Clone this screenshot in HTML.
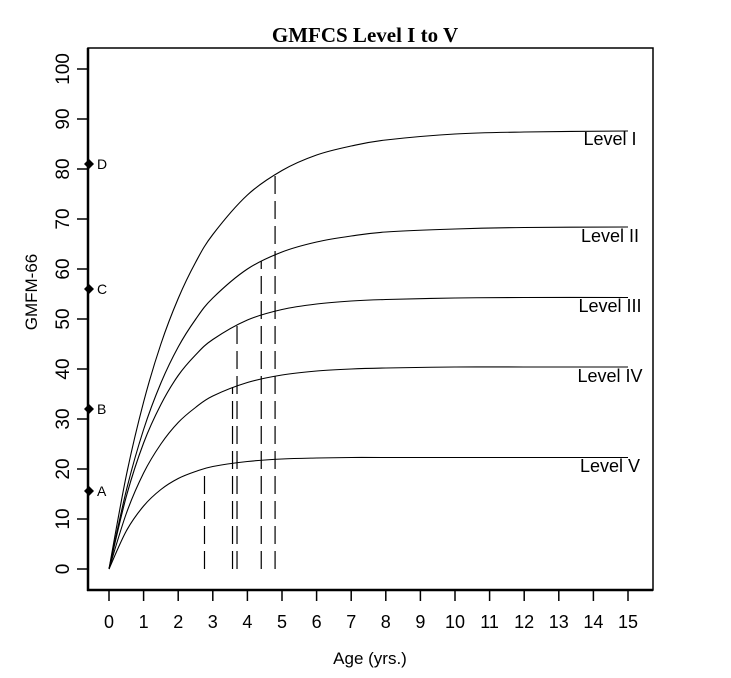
<!DOCTYPE html>
<html><head><meta charset="utf-8"><style>
html,body{margin:0;padding:0;background:#fff;}
svg{display:block;font-family:"Liberation Sans",Arial,sans-serif;}
</style></head><body>
<svg id="chart" width="731" height="678" viewBox="0 0 731 678">
<text x="365" y="42" text-anchor="middle" font-family="Liberation Serif,serif" font-weight="bold" font-size="21">GMFCS Level I to V</text>
<rect x="88" y="48" width="565" height="542" fill="none" stroke="#000" stroke-width="1.5"/>
<g id="g"></g>
<text x="370" y="664" text-anchor="middle" font-size="17">Age (yrs.)</text>
<text transform="translate(37,292) rotate(-90)" text-anchor="middle" font-size="17">GMFM-66</text>
</svg>
<script>
const ages = [0,0.5,1,1.5,2,2.5,3,4,5,6,7,8,10,12,15];
const levelI   = [0,18.7,33.4,45.0,54.1,61.3,66.9,74.8,79.7,82.8,84.6,85.8,87.0,87.4,87.6];
const levelII  = [0,15.7,27.9,37.2,44.4,49.9,54.2,60.0,63.4,65.4,66.6,67.4,68.0,68.3,68.4];
const levelIII = [0,14.5,25.2,32.9,38.7,42.8,45.9,49.8,51.9,53.0,53.6,53.9,54.2,54.3,54.3];
const levelIV  = [0,11.1,19.2,25.0,29.3,32.3,34.6,37.3,38.8,39.6,40.0,40.2,40.4,40.4,40.4];
const levelV   = [0,7.6,12.6,15.9,18.1,19.5,20.5,21.5,22.0,22.2,22.3,22.3,22.3,22.3,22.3];
const seriesNames = ["Level I","Level II","Level III","Level IV","Level V"];
const dashAges = [4.8,4.4,3.7,3.57,2.76];
const dashTops = [78.9,61.6,48.9,36.4,20.1];
const pointLabels = ["A","B","C","D"];
const pointValues = [15.6,32,56,81];
const xTicks = [0,1,2,3,4,5,6,7,8,9,10,11,12,13,14,15];
const yTicks = [0,10,20,30,40,50,60,70,80,90,100];

const NS="http://www.w3.org/2000/svg";
const g=document.getElementById('g');
const X=t=>109+t*34.6;
const Y=v=>569-v*5.0;
function mk(tag,attrs){const e=document.createElementNS(NS,tag);for(const k in attrs)e.setAttribute(k,attrs[k]);g.appendChild(e);return e;}

mk('line',{x1:88,x2:88,y1:48,y2:591,stroke:'#000','stroke-width':2.5});
mk('line',{x1:87,x2:653,y1:590,y2:590,stroke:'#000','stroke-width':2.5});

xTicks.forEach(t=>{
  const l=mk('line',{x1:X(t),x2:X(t),y1:590,y2:601,stroke:'#000','stroke-width':1.5});
  
  
  const tx=mk('text',{x:X(t),y:628,'text-anchor':'middle','font-size':18});
  tx.textContent=t;
  
  
});
yTicks.forEach(v=>{
  const l=mk('line',{x1:77,x2:88,y1:Y(v),y2:Y(v),stroke:'#000','stroke-width':1.5});
  
  
  const tx=mk('text',{transform:`translate(69,${Y(v)}) rotate(-90)`,'text-anchor':'middle','font-size':19});
  tx.textContent=v;
  
  
});

function smooth(pts){
  let d=`M${pts[0][0]},${pts[0][1]}`;
  for(let i=0;i<pts.length-1;i++){
    const p0=pts[i-1]||pts[i],p1=pts[i],p2=pts[i+1],p3=pts[i+2]||p2;
    const c1=[p1[0]+(p2[0]-p0[0])/6,p1[1]+(p2[1]-p0[1])/6];
    const c2=[p2[0]-(p3[0]-p1[0])/6,p2[1]-(p3[1]-p1[1])/6];
    d+=` C${c1[0]},${c1[1]} ${c2[0]},${c2[1]} ${p2[0]},${p2[1]}`;
  }
  return d;
}
const series=[levelI,levelII,levelIII,levelIV,levelV];
const labelY=[139,236,306,376,466];
series.forEach((s,i)=>{
  const p=mk('path',{d:smooth(ages.map((a,j)=>[X(a),Y(s[j])])),fill:'none',stroke:'#000','stroke-width':1.1});
  
  
  const tx=mk('text',{x:610,y:labelY[i]+6,'text-anchor':'middle','font-size':18});
  tx.textContent=seriesNames[i];
  
  
});
dashAges.forEach((a,i)=>{
  const l=mk('line',{x1:X(a),x2:X(a),y1:Y(0),y2:Y(dashTops[i]),stroke:'#000','stroke-width':1.2,'stroke-dasharray':'18,7'});
  
  
});
pointValues.forEach((v,i)=>{
  const y=Y(v);
  const d=mk('polygon',{points:`89,${y-5} 94,${y} 89,${y+5} 84,${y}`,fill:'#000'});
  
  
  const tx=mk('text',{x:97,y:y+5,'font-size':14});
  tx.textContent=pointLabels[i];
  
  
});
</script>
</body></html>
